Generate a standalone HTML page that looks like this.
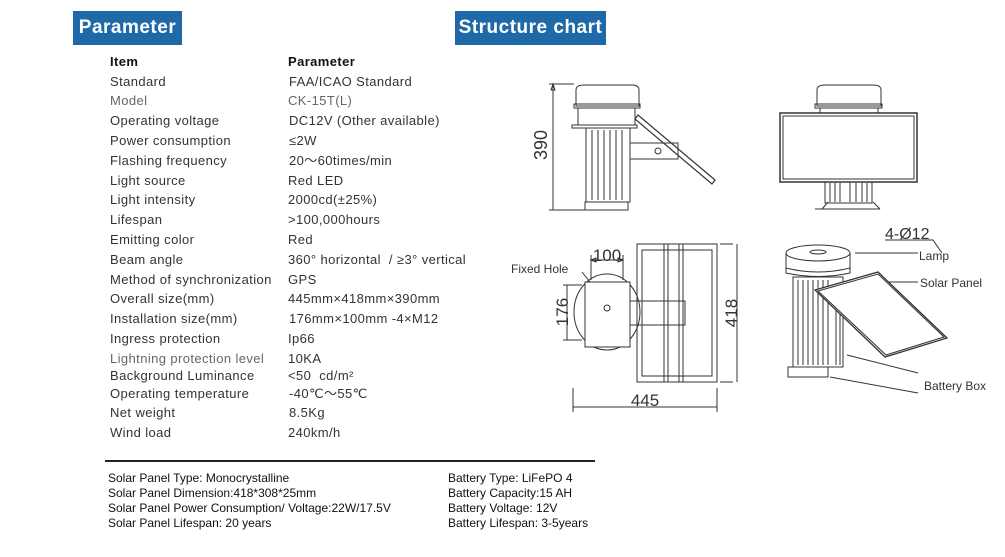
<!DOCTYPE html>
<html><head><meta charset="utf-8">
<style>
body{margin:0;background:#fff;width:1005px;height:557px;position:relative;overflow:hidden;font-family:"Liberation Sans",sans-serif;}
.h{position:absolute;background:#1f69a8;color:#fff;font-weight:bold;font-size:19px;letter-spacing:0.5px;line-height:34px;text-align:center;top:11px;height:34px;}
.t{position:absolute;font-size:13px;color:#333;letter-spacing:0.4px;line-height:16px;white-space:nowrap;}
.g{color:#666;}
.b{position:absolute;font-size:12px;color:#111;line-height:15px;white-space:nowrap;}
svg{position:absolute;left:0;top:0;}
</style></head><body>
<div class="h" style="left:73px;width:109px;">Parameter</div>
<div class="h" style="left:455px;width:151px;">Structure chart</div>

<div class="t" style="left:110px;top:54px;font-weight:bold;color:#111">Item</div>
<div class="t" style="left:288px;top:54px;font-weight:bold;color:#111">Parameter</div>
<div class="t" style="left:110px;top:74px">Standard</div><div class="t" style="left:289px;top:74px">FAA/ICAO Standard</div>
<div class="t g" style="left:110px;top:93px">Model</div><div class="t g" style="left:288px;top:93px">CK-15T(L)</div>
<div class="t" style="left:110px;top:113px">Operating voltage</div><div class="t" style="left:289px;top:113px">DC12V (Other available)</div>
<div class="t" style="left:110px;top:133px">Power consumption</div><div class="t" style="left:289px;top:133px">≤2W</div>
<div class="t" style="left:110px;top:153px">Flashing frequency</div><div class="t" style="left:289px;top:153px">20～60times/min</div>
<div class="t" style="left:110px;top:173px">Light source</div><div class="t" style="left:288px;top:173px">Red LED</div>
<div class="t" style="left:110px;top:192px">Light intensity</div><div class="t" style="left:288px;top:192px">2000cd(±25%)</div>
<div class="t" style="left:110px;top:212px">Lifespan</div><div class="t" style="left:288px;top:212px">&gt;100,000hours</div>
<div class="t" style="left:110px;top:232px">Emitting color</div><div class="t" style="left:288px;top:232px">Red</div>
<div class="t" style="left:110px;top:252px">Beam angle</div><div class="t" style="left:288px;top:252px">360° horizontal &nbsp;/ ≥3° vertical</div>
<div class="t" style="left:110px;top:272px">Method of synchronization</div><div class="t" style="left:288px;top:272px">GPS</div>
<div class="t" style="left:110px;top:291px">Overall size(mm)</div><div class="t" style="left:288px;top:291px">445mm×418mm×390mm</div>
<div class="t" style="left:110px;top:311px">Installation size(mm)</div><div class="t" style="left:289px;top:311px">176mm×100mm -4×M12</div>
<div class="t" style="left:110px;top:331px">Ingress protection</div><div class="t" style="left:288px;top:331px">Ip66</div>
<div class="t g" style="left:110px;top:351px">Lightning protection level</div><div class="t" style="left:288px;top:351px">10KA</div>
<div class="t" style="left:110px;top:368px">Background Luminance</div><div class="t" style="left:288px;top:368px">&lt;50 &nbsp;cd/m²</div>
<div class="t" style="left:110px;top:386px">Operating temperature</div><div class="t" style="left:289px;top:386px">-40℃～55℃</div>
<div class="t" style="left:110px;top:405px">Net weight</div><div class="t" style="left:289px;top:405px">8.5Kg</div>
<div class="t" style="left:110px;top:425px">Wind load</div><div class="t" style="left:288px;top:425px">240km/h</div>

<div style="position:absolute;left:105px;top:460px;width:490px;height:2px;background:#222"></div>
<div class="b" style="left:108px;top:471px">Solar Panel Type: Monocrystalline</div>
<div class="b" style="left:108px;top:486px">Solar Panel Dimension:418*308*25mm</div>
<div class="b" style="left:108px;top:501px">Solar Panel Power Consumption/ Voltage:22W/17.5V</div>
<div class="b" style="left:108px;top:516px">Solar Panel Lifespan: 20 years</div>
<div class="b" style="left:448px;top:471px">Battery Type: LiFePO 4</div>
<div class="b" style="left:448px;top:486px">Battery Capacity:15 AH</div>
<div class="b" style="left:448px;top:501px">Battery Voltage: 12V</div>
<div class="b" style="left:448px;top:516px">Battery Lifespan: 3-5years</div>

<svg width="1005" height="557" viewBox="0 0 1005 557" fill="none" stroke="#333" stroke-width="1" font-family="Liberation Sans, sans-serif">
<!-- side view -->
<path d="M576 106 V90 Q576 85 584 85 H632 Q639 85 639 90 V106 Z" />
<rect x="574" y="104" width="66" height="4"/>
<rect x="578" y="108" width="57" height="17"/>
<rect x="572" y="125" width="65" height="3"/>
<rect x="586" y="128" width="44" height="74"/>
<path d="M592 130V200M598 130V200M604 130V200M610 130V200M616 130V200M622 130V200"/>
<rect x="585" y="202" width="43" height="8"/>
<rect x="630" y="143" width="48" height="16"/>
<circle cx="658" cy="151" r="3"/>
<path d="M638 115 L715 180 L712 184 L635 119 Z" stroke-width="1.2"/>
<path d="M553 84V210M549 84H574M549 210H585M553 84l-2 6h4z"/>
<text x="547" y="145" transform="rotate(-90 547 145)" font-size="18" fill="#333" stroke="none" text-anchor="middle">390</text>
<!-- front view -->
<path d="M817 106 V90 Q817 85 825 85 H873 Q881 85 881 90 V106 Z"/>
<rect x="815" y="104" width="67" height="4"/>
<rect x="820" y="108" width="58" height="5"/>
<rect x="780" y="113" width="137" height="69" stroke-width="1.5"/>
<rect x="783" y="116" width="131" height="63"/>
<rect x="825" y="182" width="47" height="21"/>
<path d="M830 183V202M835 183V202M840 183V202M850 183V202M856 183V202M862 183V202M867 183V202"/>
<path d="M815 209H880M822 209L828 202M873 202L880 209"/>
<!-- top view -->
<rect x="637" y="244" width="80" height="138"/>
<rect x="642" y="250" width="70" height="126"/>
<rect x="664" y="244" width="19" height="138"/>
<rect x="668" y="244" width="11" height="138"/>
<rect x="630" y="301" width="55" height="24"/>
<ellipse cx="607" cy="312" rx="33" ry="38"/>
<rect x="585" y="282" width="45" height="65" fill="#fff"/>
<circle cx="607" cy="308" r="3"/>
<path d="M591 280V255M623 280V255M591 260H623M591 260l5-2v4zM623 260l-5-2v4z"/>
<path d="M582 285H563M582 340H563M567 285V340"/>
<path d="M733 244H720M733 382H720M737 244V382"/>
<path d="M573 388V412M717 388V412M573 407H717"/>
<path d="M590 282l-8-10"/>
<text x="607" y="261" font-size="17" fill="#333" stroke="none" text-anchor="middle">100</text>
<text x="568" y="312" transform="rotate(-90 568 312)" font-size="17" fill="#333" stroke="none" text-anchor="middle">176</text>
<text x="737" y="313" transform="rotate(-90 737 313)" font-size="17" fill="#333" stroke="none" text-anchor="middle">418</text>
<text x="645" y="406" font-size="17" fill="#333" stroke="none" text-anchor="middle">445</text>
<text x="511" y="273" font-size="12" fill="#333" stroke="none">Fixed Hole</text>
<!-- iso view -->
<ellipse cx="818" cy="253" rx="32" ry="8"/>
<ellipse cx="818" cy="252" rx="8" ry="2"/>
<path d="M786 253V268Q818 276 850 268V253"/>
<path d="M786 268V273Q818 280 850 273V268"/>
<rect x="793" y="277" width="50" height="90"/>
<path d="M798 280V365M803 280V365M808 280V365M813 280V365M818 280V365M823 280V365M828 280V365M836 300V365M840 300V365"/>
<path d="M788 367H828V377H788Z"/>
<path d="M815 290L878 272L947 338L885 357Z" fill="#fff" stroke-width="1.3"/>
<path d="M818 291L878 274L944 337L886 355Z"/>
<path d="M855 253H918M888 282H918M847 355L918 373M830 377L918 393M885 240H933L942 253"/>
<text x="885" y="239" font-size="16" fill="#333" stroke="none">4-Ø12</text>
<text x="919" y="260" font-size="12" fill="#333" stroke="none">Lamp</text>
<text x="920" y="287" font-size="12" fill="#333" stroke="none">Solar Panel</text>
<text x="924" y="390" font-size="12" fill="#333" stroke="none">Battery Box</text>
</svg>
</body></html>
